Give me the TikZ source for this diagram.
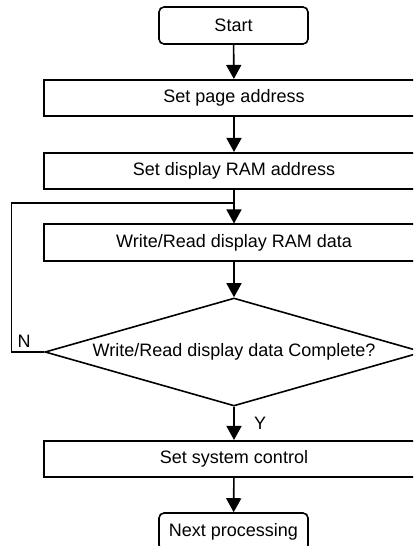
\documentclass[tikz,border=0pt]{standalone}
\usepackage{fontspec}
\setmainfont{Liberation Sans}
\usetikzlibrary{arrows.meta,shapes.geometric}
\begin{document}
\begin{tikzpicture}[x=1pt,y=-1pt,
  every node/.style={font=\fontsize{18}{21}\selectfont},
  line/.style={line width=1.6pt,line join=miter},
  arr/.style={line,-{Triangle[width=15pt,length=14pt]}},
  term/.style={line,draw,rounded corners=5pt,minimum width=149pt,minimum height=37pt,inner sep=0pt},
  proc/.style={line,draw,minimum width=380pt,minimum height=36.5pt,inner sep=0pt},
  dec/.style={line,draw,diamond,minimum width=378pt,minimum height=108pt,inner sep=0pt},
  lbl/.style={inner sep=0pt}]
\useasboundingbox (0,0) rectangle (413,546);
\clip (0,0) rectangle (413,546);
\node[term] (start) at (233.5,25.5) {Start};
\node[proc] (pa) at (234,98) {Set page address};
\node[proc] (ra) at (234,171) {Set display RAM address};
\node[proc] (wr) at (234,242.5) {Write/Read display RAM data};
\node[dec] (dia) at (234,352) {};
\node[lbl] (diat) at (dia.center) {Write/Read display data Complete?};
\node[proc] (sc) at (234,459) {Set system control};
\node[term] (np) at (233.5,531.5) {Next processing};
\coordinate (j) at (234,203);
\coordinate (c1) at (11.5,352);
\coordinate (c2) at (11.5,203);
\node[lbl] (n) at (24,341) {N};
\node[lbl] (y) at (260,423) {Y};
\draw[arr] (start) -- (pa);
\draw[arr] (pa) -- (ra);
\draw[arr] (ra) -- (wr);
\draw[arr] (wr) -- (dia.north);
\draw[line] (dia.west) -- (c1) -- (c2) -- (j);
\draw[arr] (dia.south) -- (sc);
\draw[arr] (sc) -- (np);
\end{tikzpicture}
\end{document}
